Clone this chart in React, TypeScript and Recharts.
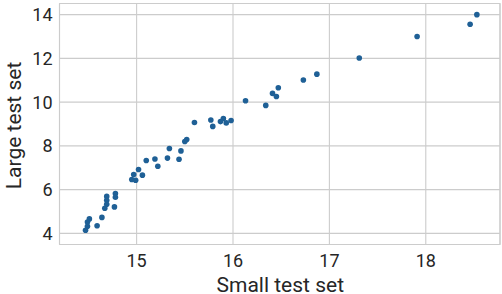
import React from 'react';
import { ScatterChart, Scatter, XAxis, YAxis, CartesianGrid, ReferenceArea } from 'recharts';

const smallTest = [
  18.53, 18.46, 17.91, 17.31, 16.87, 16.73, 16.47, 16.41, 16.45, 16.13,
  16.34, 15.98, 15.90, 15.87, 15.93, 15.77, 15.79, 15.60, 15.52, 15.50,
  15.34, 15.46, 15.44, 15.32, 15.19, 15.10, 15.22, 15.02, 14.97, 15.06,
  14.95, 14.99, 14.78, 14.78, 14.77, 14.69, 14.69, 14.69, 14.67, 14.64,
  14.59, 14.51, 14.49, 14.49, 14.47,
];
const largeTest = [
  14.0, 13.56, 13.0, 12.02, 11.28, 11.01, 10.66, 10.40, 10.26, 10.06,
  9.85, 9.16, 9.25, 9.11, 9.05, 9.18, 8.89, 9.07, 8.29, 8.20,
  7.88, 7.77, 7.39, 7.44, 7.40, 7.33, 7.07, 6.92, 6.69, 6.66,
  6.46, 6.43, 5.82, 5.65, 5.21, 5.69, 5.51, 5.33, 5.15, 4.73,
  4.35, 4.66, 4.52, 4.32, 4.14,
];
const xTicks = [15, 16, 17, 18];
const yTicks = [4, 6, 8, 10, 12, 14];
const xDomain: [number, number] = [14.2, 18.77];
const yDomain: [number, number] = [3.49, 14.51];
const xLabel = 'Small test set';
const yLabel = 'Large test set';

const data = smallTest.map((x, i) => ({ x, y: largeTest[i] }));

const FONT = 'Roboto, sans-serif';
const TEXT = '#262626';
const GRID = '#cccccc';
const DOT = '#1f6096';

const Dot = (props: any) => <circle cx={props.cx} cy={props.cy} r={2.8} fill={DOT} />;

const YLab = (props: any) => {
  const vb = props.viewBox || {};
  const cy = vb.y + vb.height / 2 + 1.5;
  const x = 20.7;
  return (
    <text x={x} y={cy} transform={`rotate(-90 ${x} ${cy})`} textAnchor="middle"
      fontFamily={FONT} fontSize={21} fill={TEXT}>{yLabel}</text>
  );
};

const XLab = (props: any) => {
  const vb = props.viewBox || {};
  const cx = vb.x + vb.width / 2 + 0.5;
  return (
    <text x={cx} y={292} textAnchor="middle" fontFamily={FONT} fontSize={21} fill={TEXT}>{xLabel}</text>
  );
};

export default function App() {
  return (
    <div style={{ position: 'absolute', left: 0, top: 0, width: 502, height: 294, background: '#fff' }}>
      <ScatterChart width={502} height={294} margin={{ top: 3.5, right: 2, bottom: 0, left: 0 }}>
        <CartesianGrid stroke={GRID} strokeWidth={1.1} />
        <XAxis type="number" dataKey="x" domain={xDomain} ticks={xTicks} allowDataOverflow
          height={49.5} tickLine={false} axisLine={false} tickSize={0} tickMargin={10}
          tick={{ fontFamily: FONT, fontSize: 18, fill: TEXT }}
          label={(p: any) => <XLab {...p} />} />
        <YAxis type="number" dataKey="y" domain={yDomain} ticks={yTicks} allowDataOverflow
          width={59.5} tickLine={false} axisLine={false} tickSize={0} tickMargin={7}
          tick={{ fontFamily: FONT, fontSize: 18, fill: TEXT }}
          label={(p: any) => <YLab {...p} />} />
        <ReferenceArea x1={xDomain[0]} x2={xDomain[1]} y1={yDomain[0]} y2={yDomain[1]}
          fill="none" stroke={GRID} strokeWidth={1.1} ifOverflow="visible" />
        <Scatter data={data} shape={Dot} isAnimationActive={false} />
      </ScatterChart>
    </div>
  );
}
